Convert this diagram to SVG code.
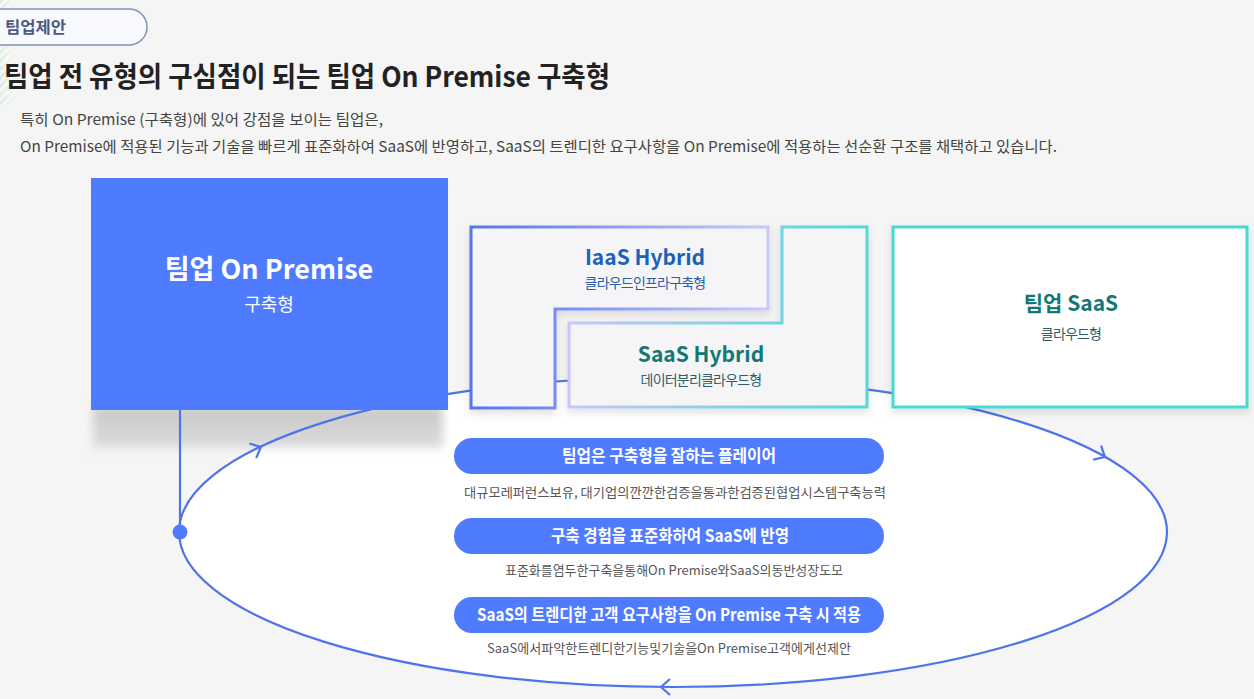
<svg xmlns="http://www.w3.org/2000/svg" width="1254" height="699" viewBox="0 0 1254 699">
<defs>
<style>
.k{font-family:"Noto Sans CJK KR","Noto Sans",sans-serif}
.pill{fill:#4f7bff}
.pt{font-family:"Noto Sans CJK KR",sans-serif;font-size:17px;font-weight:700;fill:#fff;text-anchor:middle}
.pd{font-family:"Noto Sans CJK KR",sans-serif;font-size:13px;fill:#555;text-anchor:middle}
.loop{fill:none;stroke:#4f74e8;stroke-width:2.2}
</style>
<pattern id="stripe" width="6" height="6" patternUnits="userSpaceOnUse" patternTransform="rotate(45)">
<rect width="6" height="6" fill="#f5f5f5"/><rect width="2.5" height="6" fill="#d6ecd9"/>
</pattern>
<linearGradient id="stripeFade" x1="0" y1="0" x2="1" y2="0"><stop offset="0" stop-color="#fff" stop-opacity="0"/><stop offset="1" stop-color="#f5f5f5" stop-opacity="1"/></linearGradient>
<linearGradient id="gI" x1="471" y1="0" x2="768" y2="0" gradientUnits="userSpaceOnUse"><stop offset="0" stop-color="#5874ee"/><stop offset="1" stop-color="#c8c9fb"/></linearGradient>
<linearGradient id="gS" x1="569" y1="0" x2="867" y2="0" gradientUnits="userSpaceOnUse"><stop offset="0" stop-color="#c6c6fa"/><stop offset="1" stop-color="#4fdad6"/></linearGradient>
<linearGradient id="shG" x1="0" y1="0" x2="0" y2="1"><stop offset="0" stop-color="#c8c8c8"/><stop offset="1" stop-color="#dcdcdc"/></linearGradient>
<filter id="sh" x="-10%" y="-10%" width="120%" height="130%"><feDropShadow dx="0" dy="4" stdDeviation="4" flood-color="#000" flood-opacity="0.12"/></filter>
<filter id="blur" x="-20%" y="-50%" width="140%" height="200%"><feGaussianBlur stdDeviation="5"/></filter>
<path id="chev" d="M-9,-8 L0,0 L-9,8" fill="none" stroke="#4f74e8" stroke-width="2.2"/>
</defs>
<rect width="1254" height="699" fill="#f5f5f5"/>
<rect x="0" y="0" width="16" height="105" fill="url(#stripe)"/>
<rect x="0" y="0" width="16" height="105" fill="url(#stripeFade)"/>

<g id="header">
<rect x="-20" y="9" width="167" height="36" rx="18" fill="#f8f9fc" stroke="#8492b8" stroke-width="1.5"/>
<text class="k" x="5" y="33" font-size="16" font-weight="700" fill="#4a5a86" textLength="61" lengthAdjust="spacingAndGlyphs">팀업제안</text>
<text class="k" x="4" y="87" font-size="28" font-weight="700" fill="#222" textLength="606" lengthAdjust="spacingAndGlyphs">팀업 전 유형의 구심점이 되는 팀업 On Premise 구축형</text>
<text class="k" x="20" y="125" font-size="15" fill="#444" textLength="363" lengthAdjust="spacingAndGlyphs">특히 On Premise (구축형)에 있어 강점을 보이는 팀업은,</text>
<text class="k" x="20" y="152" font-size="15" fill="#444" textLength="1037" lengthAdjust="spacingAndGlyphs">On Premise에 적용된 기능과 기술을 빠르게 표준화하여 SaaS에 반영하고, SaaS의 트렌디한 요구사항을 On Premise에 적용하는 선순환 구조를 채택하고 있습니다.</text>
</g>

<g id="connectors">
<ellipse cx="673" cy="532" rx="494" ry="155" fill="#fff"/>
<rect x="93" y="406" width="350" height="42" fill="url(#shG)" filter="url(#blur)"/>
<ellipse class="loop" cx="673" cy="532" rx="494" ry="155"/>
<line class="loop" x1="180" y1="408" x2="180" y2="532"/>
<circle cx="180" cy="532" r="7.5" fill="#4f7bff"/>
<use href="#chev" transform="translate(261,447) rotate(-25)"/>
<use href="#chev" transform="translate(1105,457) rotate(29)"/>
<use href="#chev" transform="translate(661,687) rotate(180)"/>
</g>

<g id="onpremise">
<rect x="91" y="178" width="357" height="232" fill="#4f7bff"/>
<text class="k" x="269" y="279" font-size="27" font-weight="700" fill="#fff" text-anchor="middle">팀업 On Premise</text>
<text class="k" x="269" y="311" font-size="18" fill="#fff" text-anchor="middle">구축형</text>
</g>

<g id="iaas-hybrid">
<path d="M471,227 H768 V309 H555 V408 H471 Z" fill="#f5f5f7" stroke="url(#gI)" stroke-width="3" filter="url(#sh)"/>
<text class="k" x="645" y="265" font-size="21" font-weight="700" fill="#1b63b8" text-anchor="middle">IaaS Hybrid</text>
<text class="k" x="645" y="288" font-size="14" fill="#2a5da8" text-anchor="middle" letter-spacing="-0.8">클라우드인프라구축형</text>
</g>

<g id="saas-hybrid">
<path d="M569,323 H782 V227 H867 V407 H569 Z" fill="#f5f5f7" stroke="url(#gS)" stroke-width="3" filter="url(#sh)"/>
<text class="k" x="701" y="362" font-size="21" font-weight="700" fill="#137873" text-anchor="middle">SaaS Hybrid</text>
<text class="k" x="701" y="385" font-size="14" fill="#2f5f66" text-anchor="middle" letter-spacing="-0.8">데이터분리클라우드형</text>
</g>

<g id="teamup-saas">
<rect x="893" y="227" width="354" height="180" fill="#fff" stroke="#45d9d2" stroke-width="3" filter="url(#sh)"/>
<text class="k" x="1071" y="311" font-size="21" font-weight="700" fill="#137873" text-anchor="middle">팀업 SaaS</text>
<text class="k" x="1071" y="339" font-size="14" fill="#2f5f66" text-anchor="middle" letter-spacing="-0.8">클라우드형</text>
</g>

<g id="point1">
<rect class="pill" x="454" y="438" width="430" height="36" rx="18"/>
<text class="pt" x="669" y="462" textLength="214" lengthAdjust="spacingAndGlyphs">팀업은 구축형을 잘하는 플레이어</text>
<text class="pd" x="675" y="497" textLength="422" lengthAdjust="spacingAndGlyphs">대규모레퍼런스보유, 대기업의깐깐한검증을통과한검증된협업시스템구축능력</text>
</g>
<g id="point2">
<rect class="pill" x="454" y="518" width="430" height="36" rx="18"/>
<text class="pt" x="670" y="542" textLength="238" lengthAdjust="spacingAndGlyphs">구축 경험을 표준화하여 SaaS에 반영</text>
<text class="pd" x="674" y="575" textLength="338" lengthAdjust="spacingAndGlyphs">표준화를염두한구축을통해On Premise와SaaS의동반성장도모</text>
</g>
<g id="point3">
<rect class="pill" x="454" y="597" width="430" height="36" rx="18"/>
<text class="pt" x="669" y="621" textLength="384" lengthAdjust="spacingAndGlyphs">SaaS의 트렌디한 고객 요구사항을 On Premise 구축 시 적용</text>
<text class="pd" x="669" y="653" textLength="364" lengthAdjust="spacingAndGlyphs">SaaS에서파악한트렌디한기능및기술을On Premise고객에게선제안</text>
</g>
</svg>
